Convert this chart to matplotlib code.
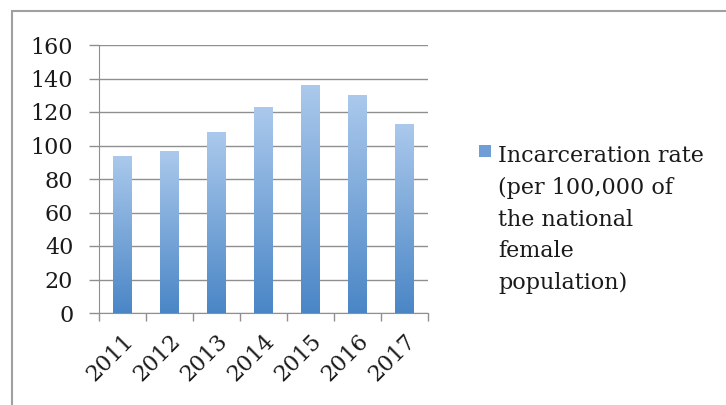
import numpy as np
import matplotlib.pyplot as plt
import matplotlib.transforms as mtransforms
from matplotlib.colors import LinearSegmentedColormap
from matplotlib.patches import Rectangle

years = ["2011", "2012", "2013", "2014", "2015", "2016", "2017"]
rates = [94, 97, 108, 123, 136, 130, 113]
series_name = "Incarceration rate\n(per 100,000 of\nthe national\nfemale\npopulation)"
y_ticks = [0, 20, 40, 60, 80, 100, 120, 140, 160]

plt.rcParams['font.family'] = ['DejaVu Serif', 'Liberation Serif']

fig = plt.figure(figsize=(7.26, 4.05), dpi=100)
ax = fig.add_axes([99 / 726, 1 - 313 / 405, 329 / 726, 268 / 405])

grey = "#8f8f8f"
x = np.arange(len(years))
bars = ax.bar(x, rates, width=0.4, color="none", edgecolor="none", zorder=3)

# vertical gradient inside each bar: dark blue at bottom, light at top
cmap = LinearSegmentedColormap.from_list("bar", ["#4a86c6", "#abc9ec"])
grad = np.linspace(0, 1, 256).reshape(-1, 1)
for b in bars:
    x0, y0 = b.get_x(), b.get_y()
    w, h = b.get_width(), b.get_height()
    im = ax.imshow(grad, cmap=cmap, origin="lower", aspect="auto",
                   extent=(x0, x0 + w, y0, y0 + h), zorder=3)
    im.set_clip_path(b)

ax.set_xlim(-0.5, len(years) - 0.5)
ax.set_ylim(0, 160)
ax.set_yticks(y_ticks)
ax.yaxis.grid(True, color=grey, linewidth=1.0)
ax.set_axisbelow(True)

# category boundary ticks below, labels centred under bars
ax.set_xticks(np.arange(len(years) + 1) - 0.5)
ax.set_xticklabels([])
ax.set_xticks(x, minor=True)
ax.set_xticklabels(years, minor=True, rotation=45, ha="right",
                   rotation_mode="anchor", fontsize=16, color="#1a1a1a")
shift = mtransforms.ScaledTranslation(-4 / 100, 0, fig.dpi_scale_trans)
for lbl in ax.get_xticklabels(minor=True):
    lbl.set_transform(lbl.get_transform() + shift)
ax.tick_params(axis="x", which="minor", length=0, pad=12)
ax.tick_params(axis="x", which="major", length=5.5, color=grey, width=1.0)
ax.tick_params(axis="y", length=7.5, color=grey, width=1.0, labelsize=16,
               pad=11, labelcolor="#1a1a1a")

for s in ["top", "right"]:
    ax.spines[s].set_visible(False)
ax.spines["left"].set_color(grey)
ax.spines["bottom"].set_color(grey)

# legend drawn by hand
fig.patches.append(Rectangle((479 / 726, 1 - 157 / 405), 12 / 726, 12 / 405,
                             transform=fig.transFigure, facecolor="#6f9ed6",
                             edgecolor="none"))
fig.text(498 / 726, 1 - 145 / 405, series_name, fontsize=16, va="top",
         ha="left", linespacing=1.57, color="#1a1a1a")

# outer chart frame
fig.patches.append(Rectangle((11.5 / 726, -0.1), 1.2, 1 - 11.5 / 405 + 0.1,
                             transform=fig.transFigure, facecolor="none",
                             edgecolor="#a0a0a0", linewidth=1.5))

fig.savefig("out.png", dpi=100)
